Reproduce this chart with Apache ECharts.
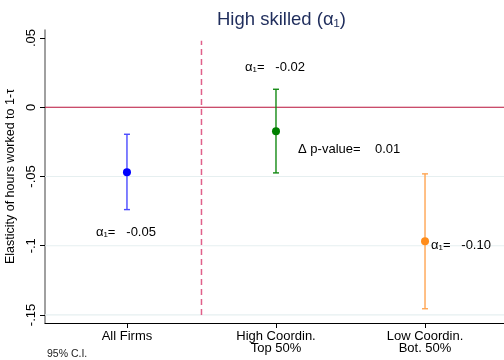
<!DOCTYPE html>
<html><head><meta charset="utf-8">
<script src="https://cdn.jsdelivr.net/npm/echarts@6/dist/echarts.min.js"></script>
<style>html,body{margin:0;padding:0;background:#fff}#c{width:504px;height:360px}</style>
</head><body><div id="c"></div>
<script>
const categories = ['All Firms', 'High Coordin.\nTop 50%', 'Low Coordin.\nBot. 50%'];
const positions = [1, 2, 3];
const estimates = [-0.047, -0.0173, -0.0968];
const ciLow = [-0.0739, -0.0474, -0.1455];
const ciHigh = [-0.0195, 0.013, -0.0481];
const pointColors = ['#0000ff', '#008000', '#ff8c1a'];
const barColors = ['#4a4aff', '#138a13', '#ffa552'];
const yTicks = [-0.15, -0.1, -0.05, 0, 0.05];
const yTickLabels = ['-.15', '-.1', '-.05', '0', '.05'];
const gridTicks = [-0.15, -0.1, -0.05];
const zeroLine = 0;
const dividerX = 1.5;
const dividerRange = [-0.15, 0.048];
const notes = [
  {x: 1.792, y: 0.0287, text: 'α\u2081=   -0.02'},
  {x: 2.148, y: -0.0306, text: 'Δ p-value=    0.01'},
  {x: 0.792, y: -0.0905, text: 'α\u2081=   -0.05'},
  {x: 3.04, y: -0.0999, text: 'α\u2081=   -0.10'}
];
const F = 'Liberation Sans, Arial, sans-serif';
const chart = echarts.init(document.getElementById('c'));
chart.setOption({
  animation: false,
  backgroundColor: '#fff',
  title: {text: 'High skilled (α\u2081)', left: 212, top: 5,
    textStyle: {fontFamily: F, fontSize: 18.5, fontWeight: 'normal', color: '#1f2d5c'}},
  graphic: [{type: 'text', left: 47, top: 349, style: {text: '95% C.I.', font: '10.5px ' + F, fill: '#222'}}],
  grid: {left: 45, right: 0, top: 30, bottom: 37, containLabel: false, outerBoundsMode: 'none'},
  xAxis: {type: 'value', min: 0.45, max: 3.53,
    axisLine: {show: true, onZero: false, lineStyle: {color: '#000', width: 1}},
    axisTick: {show: true, customValues: positions, length: 5, lineStyle: {color: '#000'}},
    axisLabel: {customValues: positions, fontFamily: F, fontSize: 13, color: '#000', margin: 7, lineHeight: 12,
      formatter: v => categories[positions.indexOf(v)] || ''},
    splitLine: {show: false}},
  yAxis: {type: 'value', min: -0.1558, max: 0.0558,
    name: 'Elasticity of hours worked to 1-τ', nameLocation: 'middle', nameGap: 28,
    nameTextStyle: {fontFamily: F, fontSize: 12.5, color: '#000'},
    axisLine: {show: true, onZero: false, lineStyle: {color: '#808080', width: 1.5}},
    axisTick: {show: true, customValues: yTicks, length: 5, lineStyle: {color: '#000'}},
    axisLabel: {customValues: yTicks, rotate: 90, fontFamily: F, fontSize: 13, color: '#000', margin: 7,
      formatter: v => { const i = yTicks.findIndex(t => Math.abs(t - v) < 1e-9); return i >= 0 ? yTickLabels[i] : ''; }},
    splitLine: {show: false}},
  series: [
    {type: 'custom', silent: true, z: 1, clip: false,
      data: [[0]],
      renderItem: (params, api) => {
        const x0 = params.coordSys.x, x1 = params.coordSys.x + params.coordSys.width;
        const kids = gridTicks.map(t => {
          const y = api.coord([1, t])[1];
          return {type: 'line', shape: {x1: x0, y1: y, x2: x1, y2: y}, style: {stroke: '#e6eff0', lineWidth: 1.2}};
        });
        const yz = api.coord([1, zeroLine])[1];
        kids.push({type: 'line', shape: {x1: x0, y1: yz, x2: x1, y2: yz}, style: {stroke: '#b8103a', lineWidth: 1.2}});
        const da = api.coord([dividerX, dividerRange[0]]), db = api.coord([dividerX, dividerRange[1]]);
        kids.push({type: 'line', shape: {x1: da[0], y1: da[1], x2: db[0], y2: db[1]},
          style: {stroke: '#e0608a', lineWidth: 1.5, lineDash: [6, 4]}});
        return {type: 'group', children: kids};
      }},
    {type: 'custom', silent: true, z: 5,
      data: positions.map((p, i) => [p, ciLow[i], ciHigh[i], i]),
      renderItem: (params, api) => {
        const x = api.value(0), i = api.value(3);
        const a = api.coord([x, api.value(2)]), b = api.coord([x, api.value(1)]);
        const st = {stroke: barColors[i], lineWidth: 1.4};
        return {type: 'group', children: [
          {type: 'line', shape: {x1: a[0], y1: a[1], x2: b[0], y2: b[1]}, style: st},
          {type: 'line', shape: {x1: a[0] - 3, y1: a[1], x2: a[0] + 3, y2: a[1]}, style: st},
          {type: 'line', shape: {x1: b[0] - 3, y1: b[1], x2: b[0] + 3, y2: b[1]}, style: st}
        ]};
      }},
    {type: 'scatter', symbolSize: 8, silent: true, z: 6,
      data: positions.map((p, i) => ({value: [p, estimates[i]], itemStyle: {color: pointColors[i], opacity: 1}}))},
    {type: 'custom', silent: true, z: 10,
      data: notes.map(n => [n.x, n.y]),
      renderItem: (params, api) => {
        const c = api.coord([api.value(0), api.value(1)]);
        return {type: 'text', x: c[0], y: c[1], style: {text: notes[params.dataIndex].text,
          font: '13px ' + F, fill: '#000', textVerticalAlign: 'middle', textAlign: 'left'}};
      }}
  ]
});
</script></body></html>
